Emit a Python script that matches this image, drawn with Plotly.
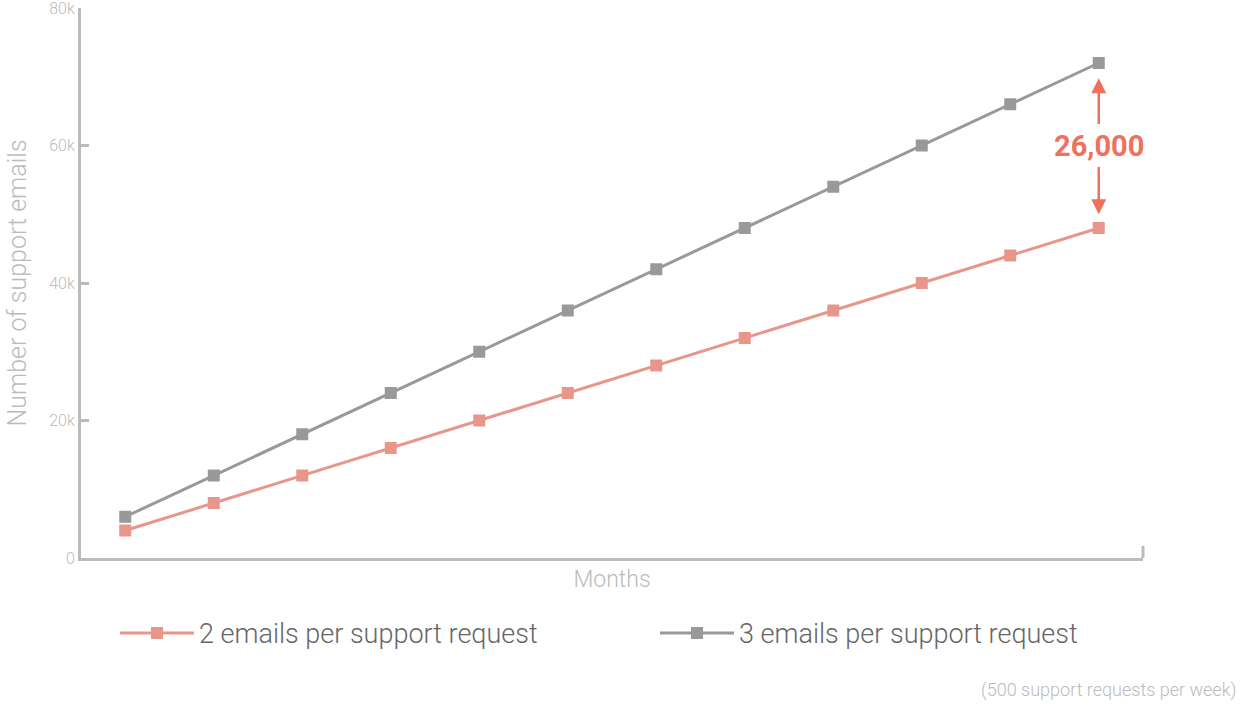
import plotly.graph_objects as go

months = list(range(1, 13))
two_emails = [4000, 8000, 12000, 16000, 20000, 24000, 28000, 32000, 36000, 40000, 44000, 48000]
three_emails = [6000, 12000, 18000, 24000, 30000, 36000, 42000, 48000, 54000, 60000, 66000, 72000]
series_names = ["2 emails per support request", "3 emails per support request"]
y_ticks = [0, 20000, 40000, 60000, 80000]
y_tick_labels = ["0", "20k", "40k", "60k", "80k"]
gap_label = "26,000"
footnote = "(500 support requests per week)"

PINK = "#E8968A"
GREY = "#999999"
AXIS = "#BBBBBB"
RED = "#F0705E"
FONT = "Roboto"

fig = go.Figure()
fig.add_trace(go.Scatter(
    x=months, y=two_emails, name=series_names[0], mode="lines+markers", legend="legend",
    line=dict(color=PINK, width=3), marker=dict(symbol="square", size=12, color=PINK)))
fig.add_trace(go.Scatter(
    x=months, y=three_emails, name=series_names[1], mode="lines+markers", legend="legend2",
    line=dict(color=GREY, width=3), marker=dict(symbol="square", size=12, color=GREY)))

legend_style = dict(orientation="h", xanchor="left", y=-0.137, yanchor="middle",
                    font=dict(size=27, color="#666666", family=FONT, weight=300), itemwidth=74)

fig.update_layout(
    width=1244, height=708,
    margin=dict(l=81, r=101, t=8, b=150, autoexpand=False),
    plot_bgcolor="white", paper_bgcolor="white",
    font=dict(family=FONT, color=AXIS, weight=300),
    showlegend=True,
    legend=dict(x=0.032, **legend_style),
    legend2=dict(x=0.5405, **legend_style),
    xaxis=dict(range=[0.5, 12.5], showgrid=False, zeroline=False, showticklabels=False,
               showline=True, linecolor=AXIS, linewidth=3, ticks="",
               title=dict(text="Months", font=dict(size=23, color=AXIS, family=FONT, weight=300),
                          standoff=11)),
    yaxis=dict(range=[0, 80000], showgrid=False, zeroline=False, tickvals=y_ticks,
               ticktext=y_tick_labels, ticks="inside", ticklen=8, tickwidth=3, tickcolor=AXIS,
               showline=True, linecolor=AXIS, linewidth=3, ticklabeloverflow="allow",
               tickfont=dict(size=16, color=AXIS, family=FONT, weight=300),
               title=dict(text="Number of support emails",
                          font=dict(size=25, color=AXIS, family=FONT, weight=300), standoff=16)),
)

# right-end tick on x axis
fig.add_shape(type="line", xref="paper", yref="paper", x0=1, x1=1, y0=0, y1=0.022,
              line=dict(color=AXIS, width=3))

last = len(months) - 1
mid = (two_emails[last] + three_emails[last]) / 2
fig.add_annotation(x=months[last], y=mid, text=gap_label, showarrow=False,
                   font=dict(size=29, color=RED, family=FONT, weight=700))
fig.add_annotation(x=months[last], y=three_emails[last] - 2200, ax=months[last], ay=mid + 2900,
                   xref="x", yref="y", axref="x", ayref="y", text="", showarrow=True,
                   arrowhead=2, arrowsize=1.2, arrowwidth=2.5, arrowcolor=RED)
fig.add_annotation(x=months[last], y=two_emails[last] + 2000, ax=months[last], ay=mid - 2900,
                   xref="x", yref="y", axref="x", ayref="y", text="", showarrow=True,
                   arrowhead=2, arrowsize=1.2, arrowwidth=2.5, arrowcolor=RED)

fig.add_annotation(text=footnote, xref="paper", yref="paper", x=1.0895, y=-0.24,
                   xanchor="right", yanchor="middle", showarrow=False,
                   font=dict(size=18, color=AXIS, family=FONT, weight=300))

fig.write_html("out.html", config={"displayModeBar": False},
               post_script="document.body.style.margin='0px';")
